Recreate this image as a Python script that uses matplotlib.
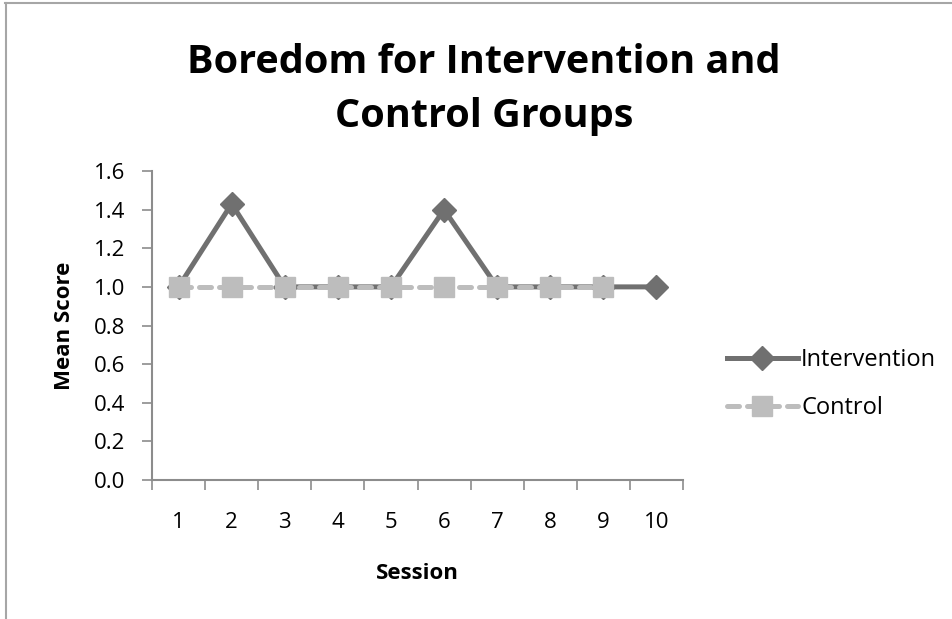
import numpy as np
import matplotlib.pyplot as plt
from matplotlib.lines import Line2D

plt.rcParams['font.family'] = ['Open Sans', 'DejaVu Sans']

sessions = [1, 2, 3, 4, 5, 6, 7, 8, 9, 10]
intervention = [1.0, 1.43, 1.0, 1.0, 1.0, 1.40, 1.0, 1.0, 1.0, 1.0]
control_sessions = [1, 2, 3, 4, 5, 6, 7, 8, 9]
control = [1.0, 1.0, 1.0, 1.0, 1.0, 1.0, 1.0, 1.0, 1.0]
y_ticks = [0.0, 0.2, 0.4, 0.6, 0.8, 1.0, 1.2, 1.4, 1.6]

DARK = "#707070"
LIGHT = "#bdbdbd"
AXIS = "#8c8c8c"

fig = plt.figure(figsize=(9.53, 6.19), dpi=100)
ax = fig.add_axes([0.1595, 0.2246, 0.5572, 0.4991])

ax.plot(sessions, intervention, color=DARK, lw=3.6, marker="D",
        markersize=12.5, markerfacecolor=DARK, markeredgecolor=DARK,
        label="Intervention", zorder=3)
ax.plot(control_sessions, control, color=LIGHT, lw=3.6, ls=(0, (2.4, 1.6)),
        marker="s", markersize=14, markerfacecolor=LIGHT, markeredgecolor=LIGHT,
        dash_capstyle="round", label="Control", zorder=4)

ax.set_xlim(0.5, 10.5)
ax.set_ylim(0, 1.6)

# category axis: ticks between categories, labels centred on them
ax.set_xticks(np.arange(0.5, 11, 1.0))
ax.set_xticklabels([])
ax.set_xticks(sessions, minor=True)
ax.set_xticklabels([str(s) for s in sessions], minor=True, fontsize=16)
ax.tick_params(axis="x", which="major", direction="out", length=7,
               color=AXIS, width=1.2)
ax.tick_params(axis="x", which="minor", length=0, pad=23)

ax.set_yticks(y_ticks)
ax.set_yticklabels([f"{v:.1f}" for v in y_ticks], fontsize=16)
ax.tick_params(axis="y", direction="out", length=7, color=AXIS, width=1.2, pad=12)

for side in ["top", "right"]:
    ax.spines[side].set_visible(False)
for side in ["left", "bottom"]:
    ax.spines[side].set_color(AXIS)
    ax.spines[side].set_linewidth(1.5)

ax.set_xlabel("Session", fontsize=16, fontweight="bold", labelpad=22)
ax.set_ylabel("Mean Score", fontsize=16, fontweight="bold", labelpad=14)

fig.text(0.508, 0.856, "Boredom for Intervention and\nControl Groups",
         ha="center", va="center", fontsize=28.5, fontweight="bold",
         linespacing=1.5)

ax.legend(loc="center left", bbox_to_anchor=(1.038, 0.31), frameon=False,
          fontsize=17, handlelength=3.0, labelspacing=1.0, handletextpad=0.15,
          borderaxespad=0.6)

# outer chart frame (top and left edges)
fig.add_artist(Line2D([0.005, 1.0], [0.995, 0.995], color="#a6a6a6", lw=1.5))
fig.add_artist(Line2D([0.006, 0.006], [0.0, 0.995], color="#a6a6a6", lw=1.5))

fig.savefig("out.png", dpi=100)
